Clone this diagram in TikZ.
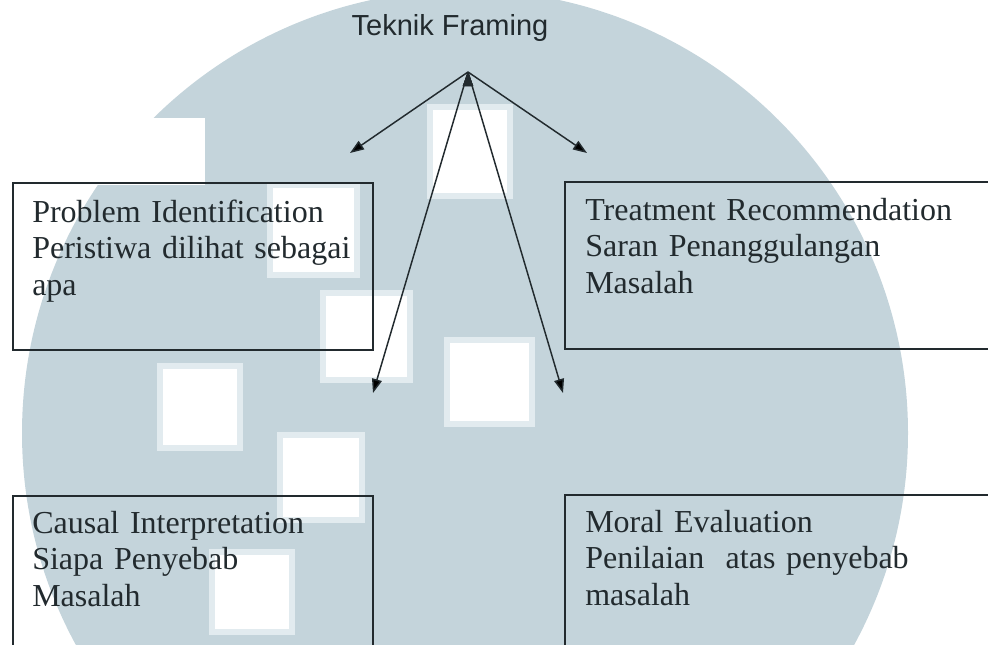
\documentclass[tikz,border=0pt]{standalone}
\usepackage{fontspec}
\setmainfont{Liberation Serif}
\newfontfamily\titlefont{Liberation Sans}
\usetikzlibrary{arrows.meta}
\definecolor{wmgray}{RGB}{196,212,219}
\definecolor{wmrim}{RGB}{226,235,239}
\definecolor{ink}{RGB}{34,42,46}

\begin{document}
\begin{tikzpicture}[x=0.75pt,y=-0.75pt]
        \tikzstyle{aspect}=[draw=ink,line width=1.5pt,minimum width=270pt,minimum height=125.25pt,anchor=north west,inner sep=0pt]
        \tikzstyle{aspecttext}=[text=ink,anchor=base west,text width=300pt,align=left,inner sep=0pt,font=\fontsize{24}{27.4}\selectfont]
        \tikzstyle{edge}=[draw=ink,line width=1.1pt,-{Triangle[length=10.5pt,width=7.5pt]}]
        \tikzstyle{hole}=[fill=white,draw=wmrim,line width=4.5pt]
        \clip (0,0) rectangle (988,644);
        % faded logo behind the diagram
        \fill[wmgray] (465,433) circle (332.25pt);
        \fill[white] (95,118) rectangle (205,185);
        \foreach \xa/\ya/\xb/\yb in {430/107/510/196, 270/185/357/275, 323/293/410/380, 447/340/532/424, 160/366/240/448, 280/435/362/520, 212/552/292/632}
          \path[hole] (\xa,\ya) rectangle (\xb,\yb);
       \begin{scope}
         \node [text=ink,anchor=base,font=\titlefont\fontsize{21.75}{26}\selectfont] (title) at (450,35) {Teknik Framing};
         \coordinate (apex) at (468,72);
         \node [aspect] (pi) at (12,182) {};
         \node [aspect,minimum width=337.5pt] (tr) at (564,181) {};
         \node [aspect,minimum height=150pt] (ci) at (12,495) {};
         \node [aspect,minimum width=337.5pt,minimum height=150pt] (me) at (564,494) {};
         \node [aspecttext] (pitext) at (32,222) {Problem Identification\\Peristiwa dilihat sebagai\\apa};
         \node [aspecttext] (trtext) at (585,220) {Treatment Recommendation\\Saran Penanggulangan\\Masalah};
         \node [aspecttext] (citext) at (32,533) {Causal Interpretation\\Siapa Penyebab\\Masalah};
         \node [aspecttext] (metext) at (585,532) {Moral Evaluation\\Penilaian\ \ atas penyebab\\masalah};
         \coordinate (topi) at (350,153);
         \coordinate (totr) at (587,153);
         \coordinate (toci) at (373,393);
         \coordinate (tome) at (563,393);
         \path[edge] (apex) edge (topi);
         \path[edge] (apex) edge (totr);
         \path[edge] (apex) edge (toci);
         \path[edge] (apex) edge (tome);
        \end{scope}
\end{tikzpicture}
\end{document}
